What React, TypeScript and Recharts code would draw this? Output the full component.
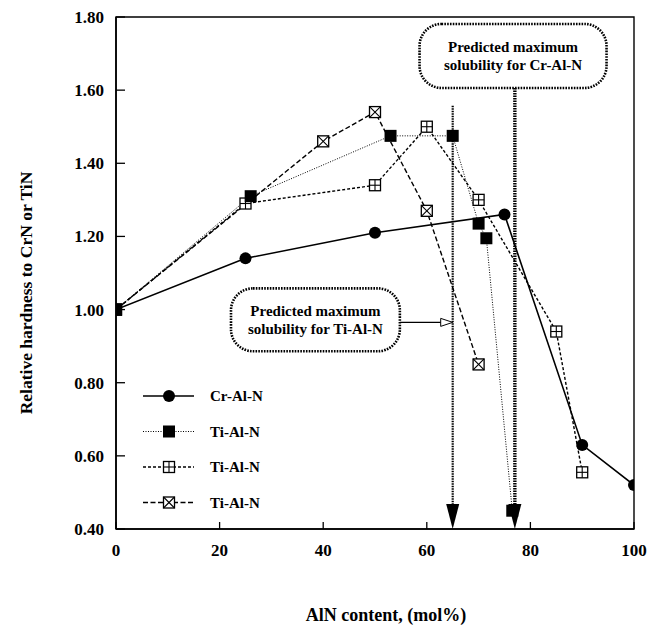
import React from "react";
import {
  ComposedChart,
  Line,
  XAxis,
  YAxis,
  Label,
  Legend,
  ReferenceArea,
  ReferenceLine,
  ReferenceDot,
} from "recharts";

const FONT = "'Liberation Serif', 'DejaVu Serif', serif";
const txt = { fontFamily: FONT, fontWeight: 700 } as const;

// axis ticks
const xTicks = [0, 20, 40, 60, 80, 100];
const yTicks = [0.4, 0.6, 0.8, 1.0, 1.2, 1.4, 1.6, 1.8];

// AlN content (mol%) vs relative hardness
const crX = [0, 25, 50, 75, 90, 100];
const crY = [1.0, 1.14, 1.21, 1.26, 0.63, 0.52];

const tiSquareX = [0, 26, 53, 65, 70, 71.5, 76.5];
const tiSquareY = [1.0, 1.31, 1.475, 1.475, 1.235, 1.195, 0.45];

const tiPlusX = [0, 25, 50, 60, 70, 85, 90];
const tiPlusY = [1.0, 1.29, 1.34, 1.5, 1.3, 0.94, 0.555];

const tiCrossX = [0, 40, 50, 60, 70];
const tiCrossY = [1.0, 1.46, 1.54, 1.27, 0.85];

const seriesNames = ["Cr-Al-N", "Ti-Al-N", "Ti-Al-N", "Ti-Al-N"];

// predicted solubility limits (mol% AlN)
const limitTiAlN = 65;
const limitCrAlN = 77;

const toPoints = (xs: number[], ys: number[]) => xs.map((x, i) => ({ x, y: ys[i] }));

const series = [
  { name: seriesNames[0], data: toPoints(crX, crY), kind: "circle", dash: undefined, width: 1.6 },
  { name: seriesNames[1], data: toPoints(tiSquareX, tiSquareY), kind: "square", dash: "1 1.5", width: 1 },
  { name: seriesNames[2], data: toPoints(tiPlusX, tiPlusY), kind: "plus", dash: "3 2", width: 1.4 },
  { name: seriesNames[3], data: toPoints(tiCrossX, tiCrossY), kind: "cross", dash: "5 2.5", width: 1.4 },
];
// filled squares end up on top, as in the original
const drawOrder = [3, 2, 0, 1];

const Marker = ({ kind, cx, cy }: { kind: string; cx: number; cy: number }) => {
  if (kind === "circle") return <circle cx={cx} cy={cy} r={6} fill="#000" />;
  if (kind === "square") return <rect x={cx - 6} y={cy - 6} width={12} height={12} fill="#000" />;
  const s = 5.5;
  return (
    <g>
      <rect x={cx - s} y={cy - s} width={2 * s} height={2 * s} fill="#fff" stroke="#000" strokeWidth={1.3} />
      {kind === "plus" ? (
        <>
          <line x1={cx} x2={cx} y1={cy - s} y2={cy + s} stroke="#000" strokeWidth={1.1} />
          <line x1={cx - s} x2={cx + s} y1={cy} y2={cy} stroke="#000" strokeWidth={1.1} />
        </>
      ) : (
        <>
          <line x1={cx - s} x2={cx + s} y1={cy - s} y2={cy + s} stroke="#000" strokeWidth={1.1} />
          <line x1={cx - s} x2={cx + s} y1={cy + s} y2={cy - s} stroke="#000" strokeWidth={1.1} />
        </>
      )}
    </g>
  );
};

const XTick = (props: any) => {
  const { x, y, payload } = props;
  return (
    <g>
      <line x1={x} x2={x} y1={y} y2={y - 7} stroke="#000" strokeWidth={1.3} />
      <text x={x} y={y + 27} textAnchor="middle" fontFamily={FONT} fontWeight={700} fontSize={17} fill="#000">
        {payload.value}
      </text>
    </g>
  );
};

const YTick = (props: any) => {
  const { x, y, payload } = props;
  return (
    <g>
      <line x1={x} x2={x + 9} y1={y} y2={y} stroke="#000" strokeWidth={1.3} />
      <text x={x - 12} y={y + 6} textAnchor="end" fontFamily={FONT} fontWeight={700} fontSize={17} fill="#000">
        {Number(payload.value).toFixed(2)}
      </text>
    </g>
  );
};

const noteBox = (lines: string[]) => (p: any) => {
  const { x, y, width, height } = p;
  return (
    <g>
      <rect x={x} y={y} width={width} height={height} rx={22} ry={22} fill="#fff" stroke="#000" strokeWidth={2.6} strokeDasharray="1.6 1.2" />
      {lines.map((t, i) => (
        <text key={i} x={x + width / 2} y={y + 28 + i * 18} textAnchor="middle" fontFamily={FONT} fontWeight={700} fontSize={15} fill="#000">
          {t}
        </text>
      ))}
    </g>
  );
};

const DownArrow = (p: any) => (
  <polygon points={`${p.cx - 6.5},${p.cy - 25} ${p.cx + 6.5},${p.cy - 25} ${p.cx},${p.cy}`} fill="#000" />
);

const RightArrow = (p: any) => (
  <polygon points={`${p.cx},${p.cy} ${p.cx - 12},${p.cy - 4} ${p.cx - 12},${p.cy + 4}`} fill="#fff" stroke="#000" strokeWidth={1} />
);

const LegendBox = () => (
  <svg width={140} height={145}>
    {series.map((s, i) => {
      const y = 16 + i * 35.5;
      return (
        <g key={i}>
          <line x1={5} x2={56} y1={y} y2={y} stroke="#000" strokeWidth={s.width} strokeDasharray={s.dash} />
          <Marker kind={s.kind} cx={31} cy={y} />
          <text x={72} y={y + 5} fontFamily={FONT} fontWeight={700} fontSize={15} fill="#000">
            {s.name}
          </text>
        </g>
      );
    })}
  </svg>
);

const YTitle = (props: any) => {
  const vb = props.viewBox;
  const cx = 18;
  const cy = vb.y + vb.height / 2 + 20;
  return (
    <text x={cx} y={cy} transform={`rotate(-90 ${cx} ${cy})`} textAnchor="middle" dominantBaseline="central" fontFamily={FONT} fontWeight={700} fontSize={17.5} fill="#000">
      Relative hardness to CrN or TiN
    </text>
  );
};

const XTitle = (props: any) => {
  const vb = props.viewBox;
  return (
    <text x={vb.x + vb.width / 2 + 11} y={vb.y + 92} textAnchor="middle" fontFamily={FONT} fontWeight={700} fontSize={18} fill="#000">
      AlN content, (mol%)
    </text>
  );
};

const HardnessChart = () => {
  return (
    <div style={{ width: 654, height: 618, background: "#fff", fontFamily: FONT }}>
      <ComposedChart width={654} height={618} margin={{ top: 9, right: 28, bottom: 0, left: 0 }}>
        <XAxis
          type="number"
          dataKey="x"
          domain={[0, 100]}
          ticks={xTicks}
          interval={0}
          allowDataOverflow
          tickSize={0}
          tickMargin={0}
          tickLine={false}
          tick={<XTick />}
          axisLine={{ stroke: "#000", strokeWidth: 1.6 }}
          height={97}
        >
          <Label content={<XTitle />} />
        </XAxis>
        <YAxis
          type="number"
          domain={[0.4, 1.8]}
          ticks={yTicks}
          interval={0}
          allowDataOverflow
          tickSize={0}
          tickMargin={0}
          tickLine={false}
          tick={<YTick />}
          axisLine={{ stroke: "#000", strokeWidth: 1.6 }}
          width={108}
        >
          <Label content={<YTitle />} />
        </YAxis>

        <ReferenceArea x1={0} x2={100} y1={0.4} y2={1.8} fill="none" stroke="#000" strokeWidth={1.4} />

        <ReferenceArea
          x1={58.6}
          x2={94.7}
          y1={1.606}
          y2={1.781}
          ifOverflow="visible"
          shape={noteBox(["Predicted maximum", "solubility for Cr-Al-N"])}
        />
        <ReferenceArea
          x1={22.2}
          x2={54.8}
          y1={0.886}
          y2={1.058}
          ifOverflow="visible"
          shape={noteBox(["Predicted maximum", "solubility for Ti-Al-N"])}
        />

        <ReferenceLine
          segment={[{ x: limitTiAlN, y: 1.557 }, { x: limitTiAlN, y: 0.45 }]}
          stroke="#000"
          strokeWidth={2.2}
          strokeDasharray="1.5 1"
          ifOverflow="visible"
        />
        <ReferenceLine
          segment={[{ x: limitCrAlN, y: 1.606 }, { x: limitCrAlN, y: 0.45 }]}
          stroke="#000"
          strokeWidth={3.4}
          strokeDasharray="1.5 1"
          ifOverflow="visible"
        />
        <ReferenceLine
          segment={[{ x: 54.8, y: 0.965 }, { x: 63, y: 0.965 }]}
          stroke="#000"
          strokeWidth={1.3}
          ifOverflow="visible"
        />

        {drawOrder.map((i) => {
          const s = series[i];
          return (
            <Line
              key={i}
              data={s.data}
              dataKey="y"
              name={s.name}
              type="linear"
              stroke="#000"
              strokeWidth={s.width}
              strokeDasharray={s.dash}
              dot={(p: any) => <Marker key={`${s.kind}-${p.index}`} kind={s.kind} cx={p.cx} cy={p.cy} />}
              activeDot={false}
              isAnimationActive={false}
            />
          );
        })}

        <ReferenceDot x={limitTiAlN} y={0.4} ifOverflow="visible" shape={DownArrow} />
        <ReferenceDot x={limitCrAlN} y={0.4} ifOverflow="visible" shape={DownArrow} />
        <ReferenceDot x={limitTiAlN} y={0.965} ifOverflow="visible" shape={RightArrow} />

        <Legend
          layout="vertical"
          align="center"
          verticalAlign="middle"
          content={<LegendBox />}
          wrapperStyle={{ position: "absolute", left: 130, top: 372, width: 140, height: 145 }}
        />
      </ComposedChart>
    </div>
  );
};

export default HardnessChart;
